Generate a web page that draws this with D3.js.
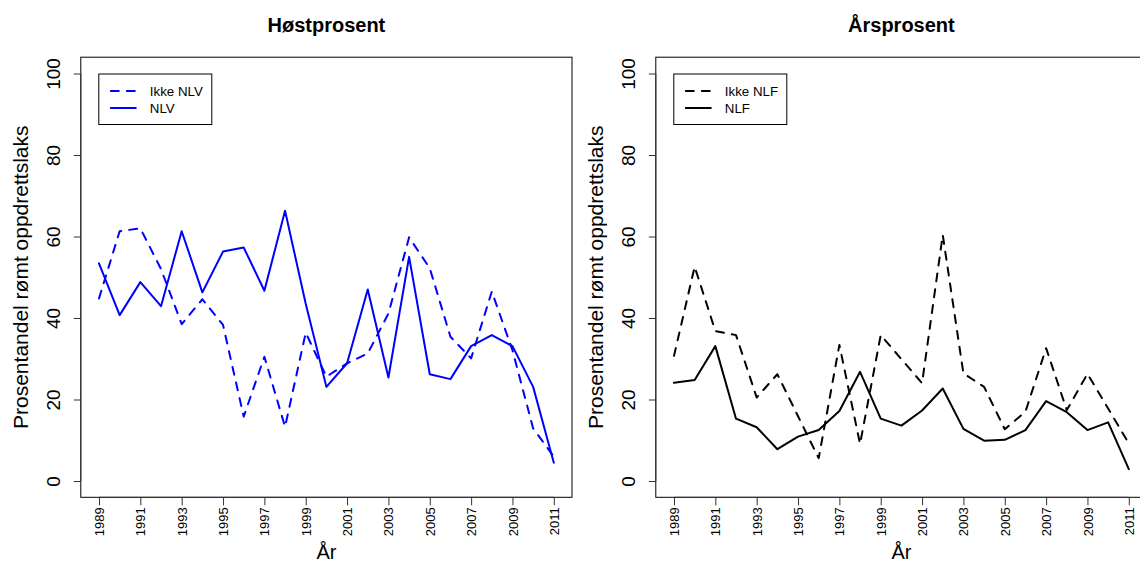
<!DOCTYPE html>
<html>
<head>
<meta charset="utf-8">
<script src="https://d3js.org/d3.v7.min.js"></script>
<style>
  body { margin: 0; background: #fff; }
  text { font-family: "Liberation Sans", Arial, Helvetica, sans-serif; }
</style>
</head>
<body>
<div id="visu"></div>
<script>

// Data
var aar = [1989, 1990, 1991, 1992, 1993, 1994, 1995, 1996, 1997, 1998, 1999, 2000,
           2001, 2002, 2003, 2004, 2005, 2006, 2007, 2008, 2009, 2010, 2011]

var ikkeNLV = [44.8, 61.3, 62.0, 52.0, 38.5, 44.6, 38.3, 15.8, 30.5, 13.3, 36.4, 25.6,
               28.9, 31.3, 41.1, 59.8, 52.2, 35.4, 30.1, 46.5, 32.1, 12.9, 6.0]
var nlv     = [53.4, 40.7, 48.8, 42.9, 61.3, 46.3, 56.3, 57.3, 46.7, 66.3, 43.5, 23.1,
               28.9, 47.0, 25.4, 55.0, 26.2, 25.0, 33.1, 35.8, 33.1, 23.1, 4.5]

var ikkeNLF = [30.7, 52.6, 36.8, 35.8, 20.5, 26.2, 15.9, 5.6, 33.4, 9.1, 35.8, 29.9,
               24.0, 60.4, 26.4, 23.1, 12.7, 17.0, 32.6, 17.4, 26.3, 17.8, 9.2]
var nlf     = [24.1, 24.8, 33.1, 15.3, 13.2, 7.8, 10.9, 12.5, 17.2, 26.8, 15.3, 13.6,
               17.3, 22.7, 12.8, 9.9, 10.1, 12.5, 19.6, 16.9, 12.5, 14.4, 2.9]

var xTicks = [1989, 1991, 1993, 1995, 1997, 1999, 2001, 2003, 2005, 2007, 2009, 2011]
var yTicks = [0, 20, 40, 60, 80, 100]

var largeur = 1140,
    hauteur = 563

var svg = d3.select("#visu")
  .append("svg")
    .attr("width", largeur)
    .attr("height", hauteur)

// one panel, R style (4% padding on both axes)
function panel(x0, x1, titre, serier, farge) {
  var top = 57.2, bunn = 497.3
  var pad = (2011 - 1989) * 0.04
  var x = d3.scaleLinear().domain([1989 - pad, 2011 + pad]).range([x0, x1])
  var y = d3.scaleLinear().domain([-4, 104]).range([bunn, top])
  var g = svg.append("g")

  // box
  g.append("rect")
    .attr("x", x0).attr("y", top)
    .attr("width", x1 - x0).attr("height", bunn - top)
    .attr("fill", "none").attr("stroke", "#000").attr("stroke-width", 1)

  // x axis
  var xa = g.append("g")
    .attr("transform", "translate(0," + bunn + ")")
    .call(d3.axisBottom(x).tickValues(xTicks).tickSize(8).tickSizeOuter(0).tickFormat(d3.format("d")))
  xa.select(".domain").attr("d", "M" + x(1989) + ",0H" + x(2011)).attr("stroke", "#333")
  xa.selectAll(".tick line").attr("stroke", "#333")
  xa.selectAll(".tick text")
    .attr("font-size", 13)
    .attr("fill", "#000")
    .attr("transform", "rotate(-90)")
    .attr("x", -10).attr("y", 0).attr("dy", "0.35em")
    .attr("text-anchor", "end")

  // y axis
  var ya = g.append("g")
    .attr("transform", "translate(" + x0 + ",0)")
    .call(d3.axisLeft(y).tickValues(yTicks).tickSize(7).tickSizeOuter(0))
  ya.select(".domain").attr("d", "M0," + y(0) + "V" + y(100)).attr("stroke", "#333")
  ya.selectAll(".tick line").attr("stroke", "#333")
  ya.selectAll(".tick text")
    .attr("font-size", 19)
    .attr("fill", "#000")
    .attr("transform", "rotate(-90)")
    .attr("x", 0).attr("y", -21)
    .attr("dy", 0)
    .attr("text-anchor", "middle")

  // titles
  g.append("text")
    .attr("x", (x0 + x1) / 2).attr("y", 32)
    .attr("text-anchor", "middle")
    .attr("font-size", 20).attr("font-weight", "bold")
    .text(titre)
  g.append("text")
    .attr("x", (x0 + x1) / 2).attr("y", 559)
    .attr("text-anchor", "middle")
    .attr("font-size", 20)
    .text("År")
  g.append("text")
    .attr("transform", "translate(" + (x0 - 53) + "," + ((top + bunn) / 2) + ") rotate(-90)")
    .attr("text-anchor", "middle")
    .attr("font-size", 21)
    .text("Prosentandel rømt oppdrettslaks")

  // lines
  var linje = d3.line()
    .x((d, i) => x(aar[i]))
    .y((d) => y(d))
  serier.forEach(function(s) {
    g.append("path")
      .datum(s.verdier)
      .attr("d", linje)
      .attr("fill", "none")
      .attr("stroke", farge)
      .attr("stroke-width", 2)
      .attr("stroke-linecap", "round")
      .attr("stroke-linejoin", "round")
      .attr("stroke-dasharray", s.stiplet ? "8,8" : null)
  })

  // legend
  var lx = x0 + 18, ly = 74
  g.append("rect")
    .attr("x", lx).attr("y", ly)
    .attr("width", 113).attr("height", 50.5)
    .attr("fill", "#fff").attr("stroke", "#000").attr("stroke-width", 1)
  serier.forEach(function(s, i) {
    var yy = ly + 17 + i * 17
    g.append("line")
      .attr("x1", lx + 12).attr("x2", lx + 37)
      .attr("y1", yy).attr("y2", yy)
      .attr("stroke", farge).attr("stroke-width", 2)
      .attr("stroke-linecap", "round")
      .attr("stroke-dasharray", s.stiplet ? "8,8" : null)
    g.append("text")
      .attr("x", lx + 51).attr("y", yy + 5)
      .attr("font-size", 13.3)
      .text(s.navn)
  })
}

panel(80.8, 572, "Høstprosent",
      [{navn: "Ikke NLV", verdier: ikkeNLV, stiplet: true},
       {navn: "NLV", verdier: nlv, stiplet: false}], "#0000ff")

panel(655.8, 1147, "Årsprosent",
      [{navn: "Ikke NLF", verdier: ikkeNLF, stiplet: true},
       {navn: "NLF", verdier: nlf, stiplet: false}], "#000000")

</script>
</body>
</html>
